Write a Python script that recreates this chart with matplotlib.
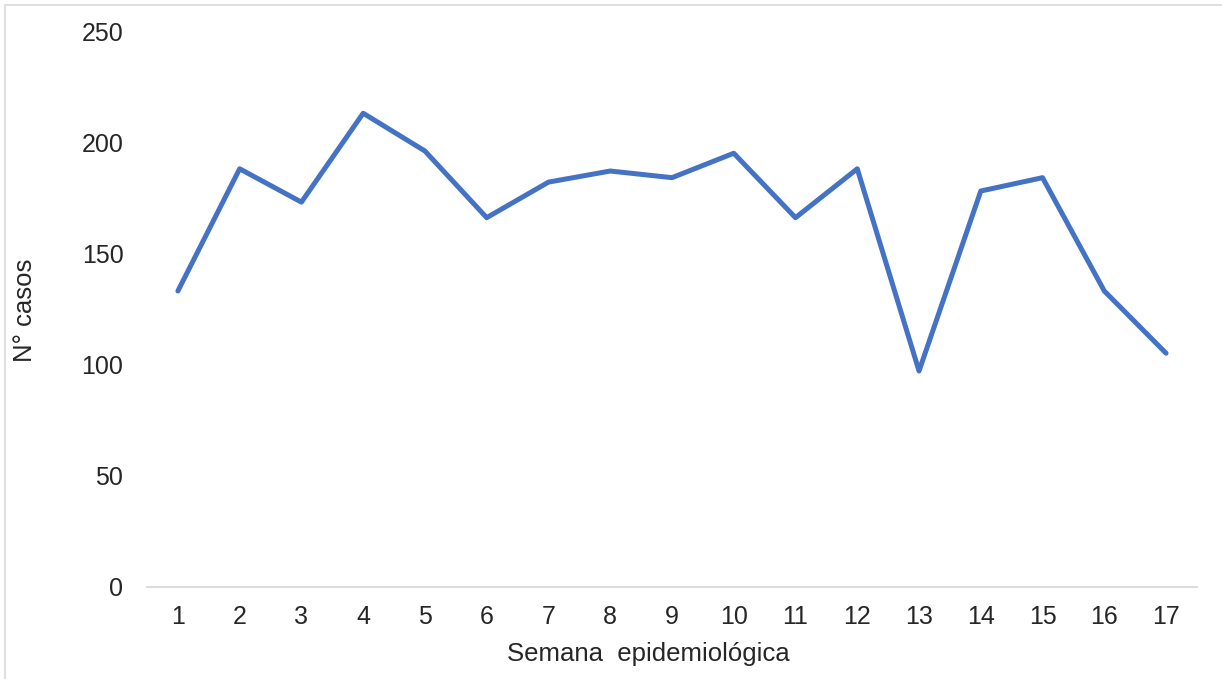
import matplotlib.pyplot as plt
from matplotlib.patches import Rectangle

plt.rcParams['font.family'] = ['Liberation Sans', 'DejaVu Sans']

## Datos
semanas = list(range(1, 18))
casos = [133, 188, 173, 213, 196, 166, 182, 187, 184, 195, 166, 188, 97, 178, 184, 133, 105]
yticks = [0, 50, 100, 150, 200, 250]

#### Plot ####
fig = plt.figure(figsize=(12.22, 6.79), dpi=100)
ax = fig.add_axes([0.1203, 0.1362, 0.8592, 0.8181])

# marco gris claro de la imagen
fig.patches.append(Rectangle((5/1222, -0.1), 1.2, 1 - 5/679 + 0.1, transform=fig.transFigure,
                             fill=False, edgecolor='#d9d9d9', linewidth=1.2))

ax.plot(semanas, casos, color='#4472c4', linewidth=3.6, solid_joinstyle='round',
        solid_capstyle='round')

ax.set_xlim(0.5, 17.5)
ax.set_ylim(0, 250)
ax.set_xticks(semanas)
ax.set_yticks(yticks)

for s in ['top', 'right', 'left']:
    ax.spines[s].set_visible(False)
ax.spines['bottom'].set_color('#d9d9d9')
ax.spines['bottom'].set_linewidth(1.3)

ax.tick_params(axis='both', length=0, labelsize=18, labelcolor='#262626')
ax.tick_params(axis='x', pad=13)
ax.tick_params(axis='y', pad=17)

ax.set_xlabel('Semana  epidemiológica', fontsize=18.5, color='#262626')
ax.set_ylabel('N° casos', fontsize=18.5, color='#262626')
ax.xaxis.set_label_coords(0.477, -0.1)
ax.yaxis.set_label_coords(-0.105, 0.498)

fig.savefig('out.png', dpi=100)
